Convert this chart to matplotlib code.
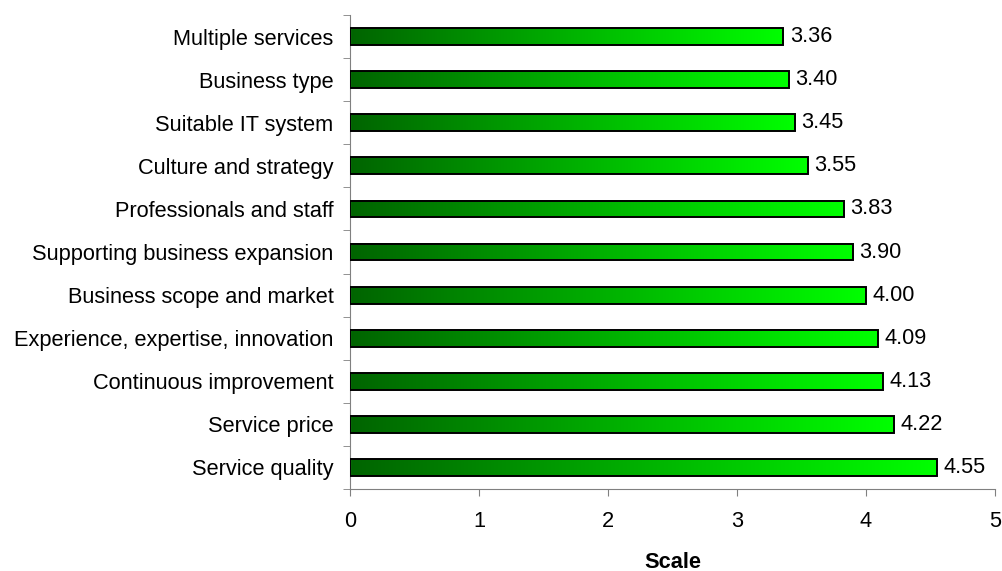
import matplotlib
matplotlib.use("Agg")
import matplotlib.pyplot as plt
import numpy as np
from matplotlib.colors import LinearSegmentedColormap

plt.rcParams["font.family"] = ["Liberation Sans", "DejaVu Sans"]

factors = [
    "Multiple services",
    "Business type",
    "Suitable IT system",
    "Culture and strategy",
    "Professionals and staff",
    "Supporting business expansion",
    "Business scope and market",
    "Experience, expertise, innovation",
    "Continuous improvement",
    "Service price",
    "Service quality",
]
scores = [3.36, 3.40, 3.45, 3.55, 3.83, 3.90, 4.00, 4.09, 4.13, 4.22, 4.55]

fs = 15.7

fig = plt.figure(figsize=(10.03, 5.71), dpi=100)
ax = fig.add_axes([0.349, 0.1436, 0.643, 0.830])

cmap = LinearSegmentedColormap.from_list("grn", ["#006400", "#00ff00"])
grad = np.linspace(0, 1, 256).reshape(1, -1)
bar_h = 0.39
ys = np.arange(len(factors))[::-1]

for y, v in zip(ys, scores):
    ax.imshow(grad, cmap=cmap, aspect="auto", extent=(0, v, y - bar_h / 2, y + bar_h / 2),
              interpolation="bicubic", zorder=2)
    ax.add_patch(plt.Rectangle((0, y - bar_h / 2), v, bar_h, fill=False,
                               edgecolor="black", linewidth=1.4, zorder=3))
    ax.text(v + 0.05, y, f"{v:.2f}", va="center", ha="left", fontsize=fs)

ax.set_xlim(0, 5)
ax.set_ylim(-0.5, len(factors) - 0.5)
ax.set_yticks(ys)
ax.set_yticklabels(factors, fontsize=fs)
ax.set_yticks(np.arange(-0.5, len(factors), 1), minor=True)
ax.tick_params(axis="y", which="major", length=0, pad=12)
ax.tick_params(axis="y", which="minor", length=5, color="#808080")
ax.set_xticks(range(6))
ax.tick_params(axis="x", labelsize=fs, length=5, color="#808080", pad=10.5)
ax.set_xlabel("Scale", fontsize=fs, fontweight="bold", labelpad=14.5)

for s in ["top", "right"]:
    ax.spines[s].set_visible(False)
for s in ["left", "bottom"]:
    ax.spines[s].set_color("#808080")

fig.savefig("out.png", dpi=100)
